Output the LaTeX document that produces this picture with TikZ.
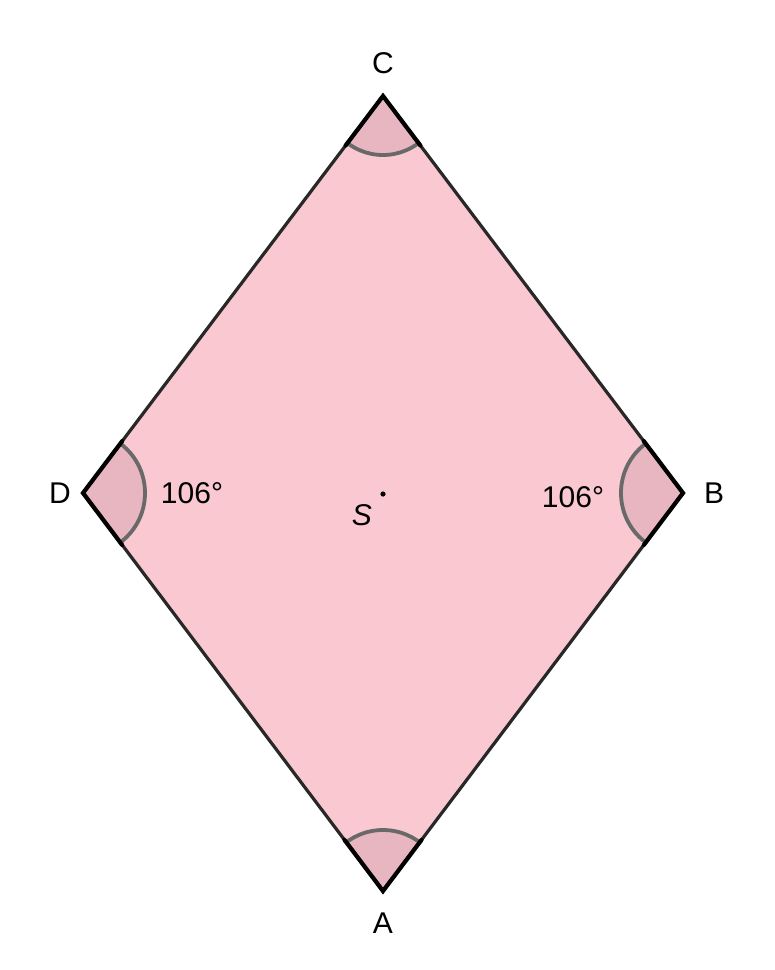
\documentclass[tikz,border=0pt]{standalone}
\usepackage{fontspec}
\setmainfont{Liberation Sans}
\usetikzlibrary{calc}
\definecolor{rhombfill}{RGB}{249,200,208}
\definecolor{sectfill}{RGB}{232,182,192}
\definecolor{edgecol}{RGB}{40,40,40}
\definecolor{arccol}{RGB}{105,105,105}
\tikzset{
  lbl/.style={font=\fontsize{30}{34}\selectfont, text=black, inner sep=0pt},
  edge/.style={draw=edgecol, line width=3.2pt, line join=miter},
  sideseg/.style={draw=black, line width=4.2pt, line cap=round},
  arcline/.style={draw=arccol, line width=3.8pt},
}
\begin{document}
\begin{tikzpicture}[x=1pt,y=-1pt]
\useasboundingbox (0,0) rectangle (775,970);
\coordinate (C) at (383,96);
\coordinate (D) at (83,493);
\coordinate (B) at (683,493);
\coordinate (A) at (383,891);
\coordinate (S) at (383,494);
% rhombus fill
\fill[rhombfill] (A) -- (B) -- (C) -- (D) -- cycle;
% angle sectors
\begin{scope}
  \clip (A) -- (B) -- (C) -- (D) -- cycle;
  \foreach \v/\r in {C/59, D/62, B/62, A/61}{
    \fill[sectfill] (\v) circle (\r);
  }
  \foreach \v/\r in {C/59, D/62, B/62, A/61}{
    \draw[arcline] (\v) circle (\r);
  }
\end{scope}
% edges
\draw[edge] (A) -- (B) -- (C) -- (D) -- cycle;
% thicker sector sides
\draw[sideseg] ($(C)!62pt!(D)$) -- (C) -- ($(C)!62pt!(B)$);
\draw[sideseg] ($(A)!64pt!(D)$) -- (A) -- ($(A)!64pt!(B)$);
\draw[sideseg] ($(D)!65pt!(C)$) -- (D) -- ($(D)!65pt!(A)$);
\draw[sideseg] ($(B)!65pt!(C)$) -- (B) -- ($(B)!65pt!(A)$);
% center point
\fill[black] (S) circle (2.6);
% labels
\node[lbl] (lC) at (383,63) {C};
\node[lbl] (lA) at (383,923) {A};
\node[lbl] (lD) at (60,493) {D};
\node[lbl] (lB) at (714,493) {B};
\node[lbl] (aD) at (192,493) {106°};
\node[lbl] (aB) at (573,497) {106°};
\node[lbl] (lS) at (362,515) {\itshape S};
\end{tikzpicture}
\end{document}
